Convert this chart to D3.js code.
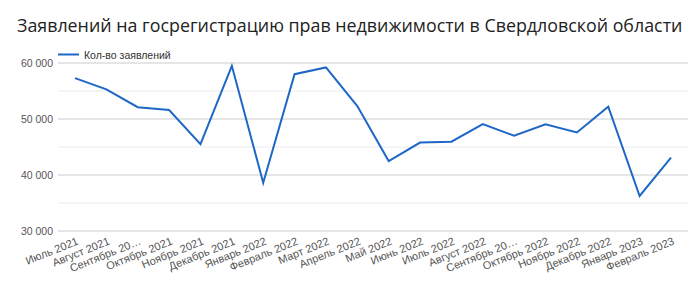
<!DOCTYPE html>
<html><head><meta charset="utf-8">
<script src="https://cdn.jsdelivr.net/npm/d3@7"></script>
<style>body{margin:0;background:#fff}svg{display:block}</style>
</head><body>
<svg id="c" width="700" height="292"></svg>
<script>
const title = "Заявлений на госрегистрацию прав недвижимости в Свердловской области";
const seriesName = "Кол-во заявлений";
const categories = ["Июль 2021","Август 2021","Сентябрь 2021","Октябрь 2021","Ноябрь 2021","Декабрь 2021","Январь 2022","Февраль 2022","Март 2022","Апрель 2022","Май 2022","Июнь 2022","Июль 2022","Август 2022","Сентябрь 2022","Октябрь 2022","Ноябрь 2022","Декабрь 2022","Январь 2023","Февраль 2023"];
const values = [57300,55300,52100,51600,45500,59500,38600,58000,59200,52300,42500,45800,45950,49100,47000,49050,47600,52200,36250,43100];
const yTicks = [30000,40000,50000,60000];
const yMinor = [35000,45000,55000];

const svg = d3.select("#c");
const L = 58, R = 688, T = 63, B = 231;
const x = d3.scalePoint().domain(categories).range([75, 671]);
const y = d3.scaleLinear().domain([30000, 60000]).range([B, T]);

// title
const tt = svg.append("text").attr("x", 17).attr("y", 32)
  .attr("font-family", "'Open Sans', sans-serif").attr("font-size", 19)
  .attr("fill", "#222").text(title);
const w = tt.node().getComputedTextLength();
tt.attr("font-size", 19 * 666 / w);

// grid
svg.append("g").selectAll("line").data(yMinor).join("line")
  .attr("x1", L).attr("x2", R).attr("y1", d => y(d)).attr("y2", d => y(d))
  .attr("stroke", "#ebebeb").attr("stroke-width", 1);
svg.append("g").selectAll("line").data(yTicks).join("line")
  .attr("x1", L).attr("x2", R).attr("y1", d => y(d)).attr("y2", d => y(d))
  .attr("stroke", "#cccccc").attr("stroke-width", 1);

// y labels
const fmt = d => d3.format(",")(d).replace(/,/g, " ");
svg.append("g").selectAll("text").data(yTicks).join("text")
  .attr("x", 53).attr("y", d => y(d)).attr("dy", "0.35em")
  .attr("text-anchor", "end").attr("font-family", "'Liberation Sans', Arial, sans-serif")
  .attr("font-size", 10.5).attr("fill", "#555").text(fmt);

// x labels
svg.append("g").selectAll("text").data(categories).join("text")
  .attr("transform", d => `translate(${x(d) + 4},${B + 13}) rotate(-22)`)
  .attr("text-anchor", "end").attr("font-family", "'Liberation Sans', Arial, sans-serif")
  .attr("font-size", 11).attr("fill", "#555")
  .text(d => d.startsWith("Сентябрь") ? "Сентябрь 20…" : d);

// line
svg.append("path").datum(values)
  .attr("d", d3.line().x((d, i) => x(categories[i])).y(d => y(d)))
  .attr("fill", "none").attr("stroke", "#1f67c7").attr("stroke-width", 2)
  .attr("stroke-linejoin", "miter");

// legend
svg.append("line").attr("x1", 58).attr("x2", 79).attr("y1", 54.5).attr("y2", 54.5)
  .attr("stroke", "#1f67c7").attr("stroke-width", 2);
svg.append("text").attr("x", 84).attr("y", 58.5)
  .attr("font-family", "'Liberation Sans', Arial, sans-serif").attr("font-size", 10.5)
  .attr("fill", "#333").text(seriesName);
</script>
</body></html>
